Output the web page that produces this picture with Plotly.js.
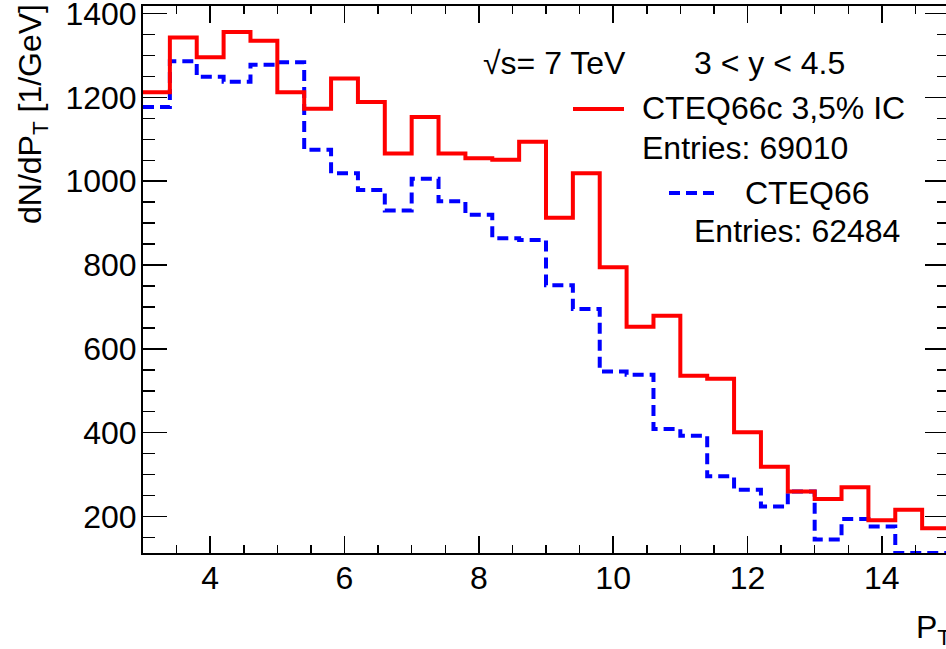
<!DOCTYPE html>
<html>
<head>
<meta charset="utf-8">
<script src="https://cdn.plot.ly/plotly-3.0.1.min.js"></script>
<style>
  html, body { margin: 0; padding: 0; overflow: hidden; background: #fff; }
  #chart { width: 952px; height: 649px; }
</style>
</head>
<body>
<div id="chart"></div>
<script>
// Bin edges of the pT histogram (GeV)
const binEdges = [3.0, 3.4, 3.8, 4.2, 4.6, 5.0, 5.4, 5.8, 6.2, 6.6, 7.0, 7.4, 7.8, 8.2, 8.6, 9.0,
                  9.4, 9.8, 10.2, 10.6, 11.0, 11.4, 11.8, 12.2, 12.6, 13.0, 13.4, 13.8, 14.2, 14.6, 15.0];
// dN/dpT per bin, CTEQ66c 3,5% IC
const cteq66cIC = [1212, 1343, 1296, 1356, 1335, 1212, 1173, 1245, 1189, 1066, 1153, 1066, 1055, 1051, 1094,
                   913, 1019, 795, 653, 679, 536, 529, 401, 319, 260, 242, 270, 191, 216, 172];
// dN/dpT per bin, CTEQ66
const cteq66 = [1177, 1286, 1249, 1237, 1278, 1284, 1075, 1019, 979, 930, 1006, 952, 920, 864, 860,
                752, 695, 546, 538, 409, 393, 296, 264, 224, 260, 145, 194, 176, 113, 113];
const labelIC = "CTEQ66c 3,5% IC";
const labelStd = "CTEQ66";
const entriesIC = "Entries: 69010";
const entriesStd = "Entries: 62484";
const energyText = "√s= 7 TeV";
const rapidityText = "3 < y < 4.5";

const FONT = "Liberation Sans, Arial, Helvetica, sans-serif";
const L = 143, R = 949, T = 6, B = 553;
const px = x => (x - L) / (R - L);
const py = y => (B - y) / (B - T);

function stepY(vals) { return vals.concat([vals[vals.length - 1]]); }

const traces = [
  { x: binEdges, y: stepY(cteq66), type: 'scatter', mode: 'lines', name: labelStd,
    line: { shape: 'hv', color: '#0000ff', width: 4, dash: '11px,6px' }, hoverinfo: 'skip' },
  { x: binEdges, y: stepY(cteq66cIC), type: 'scatter', mode: 'lines', name: labelIC,
    line: { shape: 'hv', color: '#ff0000', width: 4 }, hoverinfo: 'skip' }
];

const ann = (text, x, y, xa, ya, size, extra) => Object.assign({
  text: text, xref: 'paper', yref: 'paper', x: px(x), y: py(y), xanchor: xa, yanchor: ya,
  showarrow: false, font: { family: FONT, size: size, color: '#000' }, borderpad: 0
}, extra || {});

const layout = {
  width: 952, height: 649,
  margin: { l: L, r: 952 - R, t: T, b: 649 - B, pad: 0 },
  paper_bgcolor: '#fff', plot_bgcolor: '#fff',
  showlegend: false,
  font: { family: FONT, size: 32, color: '#000' },
  xaxis: {
    range: [3, 15], showgrid: false, zeroline: false,
    showline: true, linecolor: '#000', linewidth: 2, mirror: 'ticks',
    ticks: 'inside', ticklen: 17, tickwidth: 1.5, tickcolor: '#000',
    tick0: 0, dtick: 2, ticklabelstandoff: -4, ticklabeloverflow: 'allow',
    tickfont: { family: FONT, size: 32, color: '#000' },
    minor: { dtick: 0.5, tick0: 0, ticks: 'inside', ticklen: 8, tickwidth: 1.5, tickcolor: '#000' }
  },
  yaxis: {
    range: [113, 1418], showgrid: false, zeroline: false,
    showline: true, linecolor: '#000', linewidth: 2, mirror: 'ticks',
    ticks: 'inside', ticklen: 24, tickwidth: 1.5, tickcolor: '#000',
    tick0: 0, dtick: 200, ticklabelstandoff: -2, ticklabeloverflow: 'allow',
    tickfont: { family: FONT, size: 32, color: '#000' },
    minor: { dtick: 50, tick0: 0, ticks: 'inside', ticklen: 12, tickwidth: 1.5, tickcolor: '#000' }
  },
  shapes: [
    { type: 'line', xref: 'paper', yref: 'paper', x0: px(573), x1: px(624), y0: py(109), y1: py(109),
      line: { color: '#ff0000', width: 4 } },
    { type: 'line', xref: 'paper', yref: 'paper', x0: px(669), x1: px(714), y0: py(193), y1: py(193),
      line: { color: '#0000ff', width: 4, dash: '11px,6px' } }
  ],
  annotations: [
    ann(energyText, 482, 63, 'left', 'middle', 32),
    ann(rapidityText, 693, 63, 'left', 'middle', 32),
    ann(labelIC, 641, 108, 'left', 'middle', 32),
    ann(entriesIC, 641, 148, 'left', 'middle', 32),
    ann(labelStd, 744, 193, 'left', 'middle', 32),
    ann(entriesStd, 693, 231, 'left', 'middle', 32),
    ann('dN/dP<sub>T</sub> [1/GeV]', 33, 3, 'center', 'top', 32, { textangle: -90 }),
    ann('P<sub>T</sub>', 915, 629, 'left', 'middle', 32)
  ]
};

Plotly.newPlot('chart', traces, layout, { staticPlot: true, displayModeBar: false });
</script>
</body>
</html>
